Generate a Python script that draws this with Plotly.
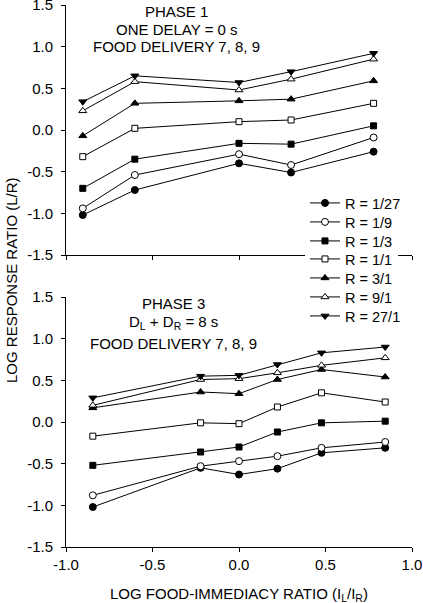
import plotly.graph_objects as go

# ---------------- data ----------------
series_names = ["R = 1/27", "R = 1/9", "R = 1/3", "R = 1/1", "R = 3/1", "R = 9/1", "R = 27/1"]

x_phase1 = [-0.903, -0.602, 0.0, 0.301, 0.778]
phase1_values = [
    [-1.02, -0.72, -0.40, -0.51, -0.26],   # 1/27
    [-0.94, -0.54, -0.29, -0.42, -0.09],   # 1/9
    [-0.70, -0.35, -0.16, -0.17, 0.05],    # 1/3
    [-0.32, 0.02, 0.10, 0.12, 0.32],       # 1/1
    [-0.07, 0.32, 0.35, 0.37, 0.59],       # 3/1
    [0.23, 0.58, 0.48, 0.61, 0.85],        # 9/1
    [0.34, 0.65, 0.57, 0.70, 0.92],        # 27/1
]

x_phase3 = [-0.845, -0.222, 0.0, 0.222, 0.477, 0.845]
phase3_values = [
    [-1.02, -0.55, -0.63, -0.56, -0.37, -0.31],   # 1/27
    [-0.88, -0.53, -0.47, -0.41, -0.31, -0.24],   # 1/9
    [-0.52, -0.36, -0.30, -0.12, -0.01, 0.01],    # 1/3
    [-0.17, -0.01, -0.02, 0.18, 0.35, 0.24],      # 1/1
    [0.17, 0.36, 0.34, 0.51, 0.63, 0.54],         # 3/1
    [0.20, 0.51, 0.52, 0.59, 0.68, 0.77],         # 9/1
    [0.29, 0.55, 0.56, 0.69, 0.83, 0.90],         # 27/1
]

x_ticks = [-1.0, -0.5, 0.0, 0.5, 1.0]
x_ticklabels = ["-1.0", "-0.5", "0.0", "0.5", "1.0"]
y_ticks = [-1.5, -1.0, -0.5, 0.0, 0.5, 1.0, 1.5]
y_ticklabels = ["-1.5", "-1.0", "-0.5", "0.0", "0.5", "1.0", "1.5"]

# ---------------- styles ----------------
symbols = ["circle", "circle", "square", "square", "triangle-up", "triangle-up", "triangle-down"]
fills = ["black", "white", "black", "white", "black", "white", "black"]
sizes = [7, 7, 6, 6, 7, 7, 7]
# one legend box per entry so the rows sit as tightly as in the reference;
# the "R = 1/1" entry uses the base legend (drawn first, white box hides the axis line)
legend_ids = ["legend2", "legend3", "legend4", "legend", "legend5", "legend6", "legend7"]
legend_row_px = [203, 222, 241, 259, 278, 297, 316]

FONT = "Liberation Sans, Arial, sans-serif"
W, H = 423, 603
ML, MR, MT, MB = 66, 11, 5, 56
PH = H - MT - MB
PW = W - ML - MR

fig = go.Figure()

for i, name in enumerate(series_names):
    marker = dict(symbol=symbols[i], size=sizes[i], color=fills[i],
                  line=dict(color="black", width=1))
    fig.add_trace(go.Scatter(x=x_phase1, y=phase1_values[i], mode="lines+markers",
                             name=name, legendgroup=name, showlegend=True,
                             legend=legend_ids[i],
                             line=dict(color="black", width=1), marker=marker,
                             xaxis="x", yaxis="y"))
    fig.add_trace(go.Scatter(x=x_phase3, y=phase3_values[i], mode="lines+markers",
                             name=name, legendgroup=name, showlegend=False,
                             legend=legend_ids[i],
                             line=dict(color="black", width=1), marker=marker,
                             xaxis="x2", yaxis="y2"))

axis_common = dict(showgrid=False, zeroline=False, showline=True, linecolor="black",
                   linewidth=1, ticks="outside", ticklen=4, tickcolor="black", tickwidth=1,
                   automargin=False, ticklabeloverflow="allow",
                   tickfont=dict(family=FONT, size=15, color="black"))

legend_x = (305 - ML) / PW
legends = {}
for i, lid in enumerate(legend_ids):
    legends[lid] = dict(
        x=legend_x, y=(H - MB - legend_row_px[i]) / PH, xanchor="left", yanchor="middle",
        bgcolor="white" if lid == "legend" else "rgba(0,0,0,0)", borderwidth=0,
        font=dict(family=FONT, size=14.5, color="black"), itemsizing="trace",
    )

fig.update_layout(
    width=W, height=H,
    margin=dict(l=ML, r=MR, t=MT, b=MB, autoexpand=False),
    paper_bgcolor="white", plot_bgcolor="white",
    font=dict(family=FONT, size=15, color="black"),
    xaxis=dict(domain=[0, 1], range=[-1, 1], tickvals=x_ticks, ticktext=x_ticklabels,
               showticklabels=False, anchor="y", **axis_common),
    yaxis=dict(domain=[(H - MB - 255) / PH, 1], range=[-1.5, 1.5],
               tickvals=y_ticks, ticktext=y_ticklabels,
               anchor="x", ticklabelstandoff=5, **axis_common),
    xaxis2=dict(domain=[0, 1], range=[-1, 1], tickvals=x_ticks, ticktext=x_ticklabels,
                anchor="y2", **axis_common),
    yaxis2=dict(domain=[0, (H - MB - 297) / PH], range=[-1.5, 1.5], tickvals=y_ticks,
                ticktext=y_ticklabels, anchor="x2", ticklabelstandoff=5, **axis_common),
    showlegend=True,
    hovermode=False,
    **legends,
)

annotations = [
    dict(text="PHASE 1", x=-0.36, y=1.42, xref="x", yref="y"),
    dict(text="ONE DELAY = 0 s", x=-0.36, y=1.21, xref="x", yref="y"),
    dict(text="FOOD DELIVERY 7, 8, 9", x=-0.36, y=1.0, xref="x", yref="y"),
    dict(text="PHASE 3", x=-0.38, y=1.42, xref="x2", yref="y2"),
    dict(text="D<sub>L</sub> + D<sub>R</sub> = 8 s", x=-0.38, y=1.19, xref="x2", yref="y2"),
    dict(text="FOOD DELIVERY 7, 8, 9", x=-0.38, y=0.94, xref="x2", yref="y2"),
    dict(text="LOG FOOD-IMMEDIACY RATIO (I<sub>L</sub>/I<sub>R</sub>)", x=0.5,
         y=(H - MB - 594) / PH, xref="paper", yref="paper"),
    dict(text="LOG RESPONSE RATIO (L/R)", x=(11 - ML) / PW, y=(H - MB - 280) / PH,
         xref="paper", yref="paper", textangle=-90),
]
for a in annotations:
    a.setdefault("xanchor", "center")
    a.setdefault("yanchor", "middle")
    a.update(showarrow=False, font=dict(family=FONT, size=15, color="black"))
    fig.add_annotation(**a)

fig.write_html("out.html", config={"displayModeBar": False},
               post_script="document.body.style.margin='0';")
